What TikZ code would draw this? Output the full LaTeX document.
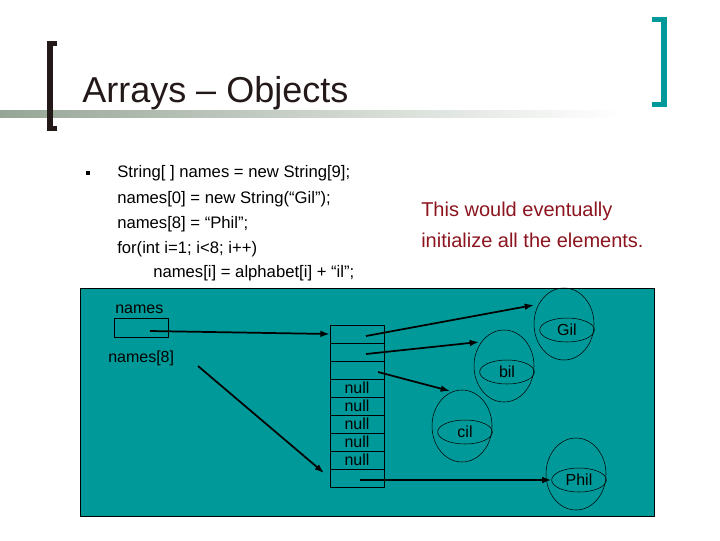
\documentclass[tikz,border=0pt]{standalone}
\usepackage{fontspec}
\setmainfont{Liberation Sans}
\usetikzlibrary{arrows.meta,shapes.geometric}
\definecolor{teal1}{RGB}{0,153,153}
\definecolor{bar}{RGB}{150,165,150}
\definecolor{ttl}{RGB}{35,25,25}
\definecolor{note}{RGB}{140,20,30}
\begin{document}
\begin{tikzpicture}[x=0.75pt,y=-0.75pt,
 arr/.style={-{Latex[length=7pt,width=5pt]},line width=1.3pt},
 outer/.style={ellipse,draw,thin,minimum width=45pt,minimum height=54pt},
 inner/.style={ellipse,draw,thin,minimum width=41pt,minimum height=18pt,inner sep=0pt,font=\fontsize{12}{14}\selectfont},
 cell/.style={draw,thin,minimum width=40.5pt,minimum height=13.5pt,inner sep=0pt,font=\fontsize{12}{13}\selectfont},
 lbl/.style={font=\fontsize{12}{14}\selectfont,inner sep=0pt,anchor=west}]
\useasboundingbox (0,0) rectangle (720,540);
% title bar
\shade[left color=bar,right color=white] (0,110) rectangle (620,117);
\fill[ttl] (47,41) rectangle (53,131);
\fill[ttl] (47,41) rectangle (57,46);
\fill[ttl] (47,126) rectangle (57,131);
\fill[teal1] (661,17) rectangle (667,107);
\fill[teal1] (652,17) rectangle (667,22);
\fill[teal1] (652,102) rectangle (667,107);
\node[anchor=west,inner sep=0pt,text=ttl,font=\fontsize{27}{30}\selectfont] (title) at (82,93) {Arrays – Objects};
% code
\node[fill=black,minimum size=3pt,inner sep=0pt] (bul) at (88,173) {};
\begin{scope}[every node/.style={lbl,font=\fontsize{12.5}{14}\selectfont}]
\node (c1) at (117,173) {String[ ] names = new String[9];};
\node (c2) at (117,199) {names[0] = new String(“Gil”);};
\node (c3) at (117,224) {names[8] = “Phil”;};
\node (c4) at (117,249) {for(int i=1; i<8; i++)};
\node (c5) at (153,273) {names[i] = alphabet[i] + “il”;};
\end{scope}
\node[lbl,text=note,font=\fontsize{15}{16}\selectfont] (n1) at (421,211) {This would eventually};
\node[lbl,text=note,font=\fontsize{15}{16}\selectfont] (n2) at (421,240) {initialize all the elements.};
% teal box
\draw[fill=teal1,thin] (80,288) rectangle (654,516);
\node[lbl] (lnames) at (115,309) {names};
\node[draw,thin,minimum width=40.5pt,minimum height=14pt,inner sep=0pt] (nbox) at (141,327.5) {};
\node[lbl] (l8) at (108,358) {names[8]};
\foreach \i/\t in {0/,1/,2/,3/null,4/null,5/null,6/null,7/null,8/}
  \node[cell] (a\i) at (357,{334+18*\i}) {\t};
\coordinate (s0) at (150,331);
\draw[arr] (s0) -- (a0.west);
\coordinate (s8) at (198,366);
\draw[arr] (s8) -- (324,473) coordinate (e8);
\node[outer] (gilo) at (564,324) {};
\node[inner] (gil) at (567,330) {Gil};
\node[outer] (bilo) at (504,366) {};
\node[inner] (bil) at (507,372) {bil};
\node[outer] (cilo) at (462,426) {};
\node[inner] (cil) at (465,432) {cil};
\node[outer] (philo) at (576,474) {};
\node[inner] (phil) at (579,480) {Phil};
\coordinate (p0) at (366,336);
\coordinate (p1) at (366,354);
\coordinate (p2) at (378,372);
\coordinate (p8) at (360,480);
\draw[arr] (p0) -- (534,305);
\draw[arr] (p1) -- (479,342);
\draw[arr] (p2) -- (450,391);
\draw[arr] (p8) -- (phil.west);
\end{tikzpicture}
\end{document}
